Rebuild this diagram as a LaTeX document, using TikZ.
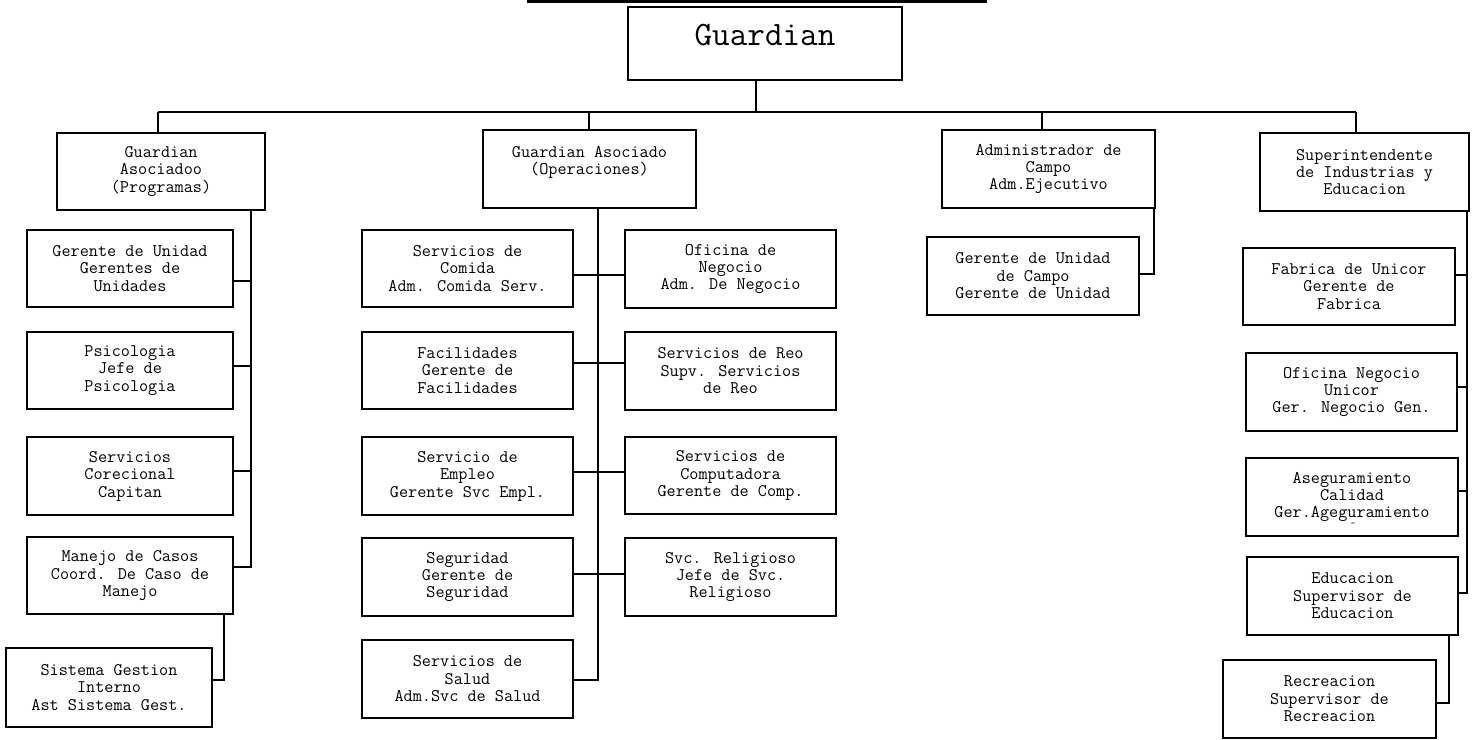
\documentclass[tikz,border=0pt]{standalone}
\usepackage{fontspec}
\tikzset{
  unit/.style={draw, line width=1.5pt, align=center, inner sep=0pt,
    minimum width=5.28cm, minimum height=1.93cm,
    font=\ttfamily\fontsize{12.6}{12.4}\selectfont},
  link/.style={line width=1.5pt}
}
\begin{document}
\begin{tikzpicture}[x=0.025cm, y=-0.025cm]
\useasboundingbox (0,0) rectangle (1474,739);

\draw[link] (527,1.5) -- (987,1.5);

\node[unit, minimum width=6.85cm, minimum height=1.83cm, text depth=12pt,
  font=\ttfamily\fontsize{24.3}{26}\selectfont] (g) at (765,43.5) {Guardian};

\coordinate (top) at (756,112);
\coordinate (busL) at (158,112);
\coordinate (busR) at (1356,112);
\coordinate (d2) at (589,112);
\coordinate (d3) at (1042,112);
\draw[link] (busL) -- (busR);
\draw[link] (g.south -| top) -- (top);

\node[unit, minimum width=5.2cm] (pg) at (161,171.5) {Guardian\\Asociadoo\\(Programas)};
\node[unit, minimum width=5.33cm, minimum height=1.95cm] (op) at (589.5,169) {Guardian Asociado\\(Operaciones)\\\mbox{}};
\node[unit, minimum width=5.33cm, minimum height=1.95cm] (ca) at (1048.5,169) {Administrador de\\Campo\\Adm.Ejecutivo};
\node[unit, minimum width=5.23cm, minimum height=1.95cm] (si) at (1364.5,172) {Superintendente\\de Industrias y\\Educacion};

\draw[link] (busL) -- (busL |- pg.north);
\draw[link] (d2) -- (d2 |- op.north);
\draw[link] (d3) -- (d3 |- ca.north);
\draw[link] (busR) -- (busR |- si.north);

\node[unit, minimum width=5.15cm] (gu) at (130,268.5) {Gerente de Unidad\\Gerentes de\\Unidades};
\node[unit, minimum width=5.15cm] (ps) at (130,370.5) {Psicologia\\Jefe de\\Psicologia};
\node[unit, minimum width=5.15cm] (sc) at (130,476) {Servicios\\Corecional\\Capitan};
\node[unit, minimum width=5.15cm] (mc) at (130,575.5) {Manejo de Casos\\Coord. De Caso de\\Manejo};
\node[unit, minimum width=5.15cm, minimum height=1.98cm] (sg) at (109,687.5) {Sistema Gestion\\Interno\\Ast Sistema Gest.};

\coordinate (s1) at (251,567);
\coordinate (k1) at (224,680);
\draw[link] (pg.south -| s1) -- (s1) -- (mc.east |- s1);
\draw[link] (gu.east |- 0,281) -- (s1 |- 0,281);
\draw[link] (ps.east |- 0,366) -- (s1 |- 0,366);
\draw[link] (sc.east |- 0,471) -- (s1 |- 0,471);
\draw[link] (mc.south -| k1) -- (k1) -- (sg.east |- k1);

\node[unit] (fc) at (467.5,268.5) {Servicios de\\Comida\\Adm. Comida Serv.};
\node[unit] (fa) at (467.5,370.5) {Facilidades\\Gerente de\\Facilidades};
\node[unit] (em) at (467.5,476) {Servicio de\\Empleo\\Gerente Svc Empl.};
\node[unit] (se) at (467.5,577) {Seguridad\\Gerente de\\Seguridad};
\node[unit] (sa) at (467.5,679) {Servicios de\\Salud\\Adm.Svc de Salud};
\node[unit] (on) at (730.5,269) {Oficina de\\Negocio\\Adm. De Negocio};
\node[unit] (re) at (730.5,371) {Servicios de Reo\\Supv. Servicios\\de Reo};
\node[unit] (co) at (730.5,475.5) {Servicios de\\Computadora\\Gerente de Comp.};
\node[unit] (sr) at (730.5,577) {Svc. Religioso\\Jefe de Svc.\\Religioso};

\coordinate (s2) at (598,680);
\draw[link] (op.south -| s2) -- (s2) -- (sa.east |- s2);
\draw[link] (fc.east |- 0,275) -- (on.west |- 0,275);
\draw[link] (fa.east |- 0,363) -- (re.west |- 0,363);
\draw[link] (em.east |- 0,472) -- (co.west |- 0,472);
\draw[link] (se.east |- 0,574) -- (sr.west |- 0,574);

\node[unit, minimum width=5.3cm] (gc) at (1033,276) {Gerente de Unidad\\de Campo\\Gerente de Unidad};

\coordinate (s3) at (1154,274);
\draw[link] (ca.south -| s3) -- (s3) -- (gc.east |- s3);

\node[unit] (fu) at (1349,286.5) {Fabrica de Unicor\\Gerente de\\Fabrica};
\node[unit] (ou) at (1351.5,392) {Oficina Negocio\\Unicor\\Ger. Negocio Gen.};
\node[unit] (ac) at (1352,497) {Aseguramiento\\Calidad\\Ger.Ageguramiento};
\node[unit] (ed) at (1352.5,596) {Educacion\\Supervisor de\\Educacion};
\node[unit, minimum width=5.33cm] (rc) at (1329.5,699) {Recreacion\\Supervisor de\\Recreacion};
\node[font=\ttfamily\fontsize{7}{7}\selectfont, inner sep=0pt] (tl) at (1353,525) {\textasciitilde};

\coordinate (s4) at (1467,593);
\coordinate (k4) at (1449,703);
\draw[link] (si.south -| s4) -- (s4) -- (ed.east |- s4);
\draw[link] (fu.east |- 0,275) -- (s4 |- 0,275);
\draw[link] (ou.east |- 0,387) -- (s4 |- 0,387);
\draw[link] (ac.east |- 0,491) -- (s4 |- 0,491);
\draw[link] (ed.south -| k4) -- (k4) -- (rc.east |- k4);

\end{tikzpicture}
\end{document}
